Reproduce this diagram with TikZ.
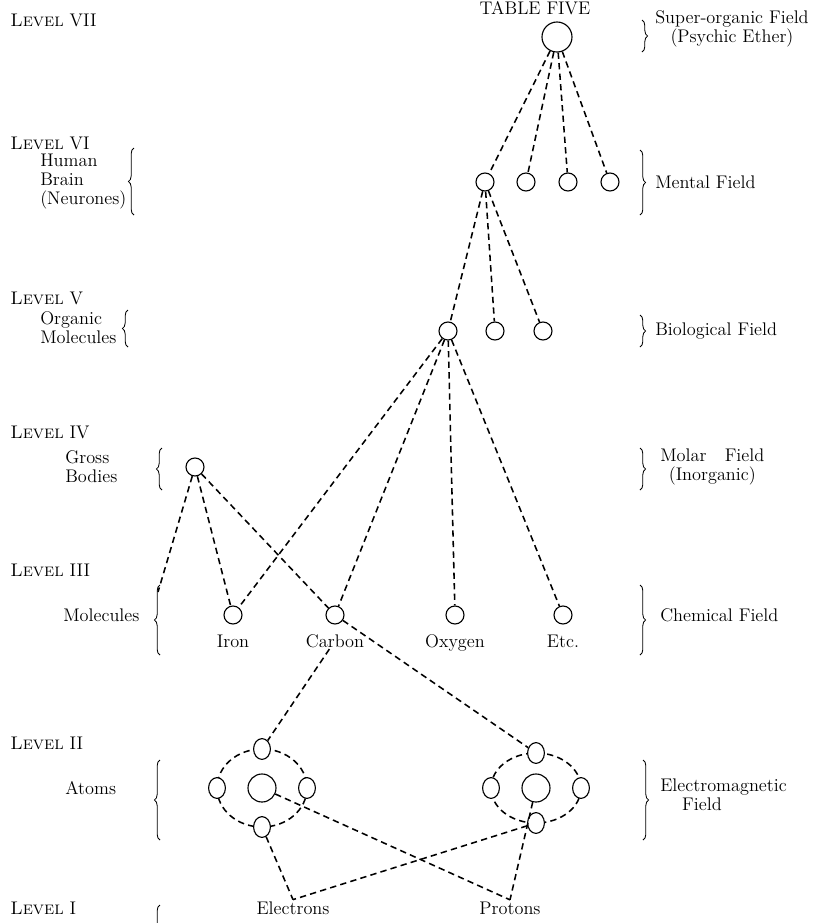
\documentclass[tikz,border=0pt]{standalone}
\usetikzlibrary{shapes.geometric,decorations.pathreplacing}
\tikzset{
%Define styles for the circles
big circle/.style={circle, draw, thick, fill=white, inner sep=0pt, minimum size=0.75cm},
small circle/.style={circle, draw, thick, fill=white, inner sep=0pt, minimum size=0.45cm},
nucleus/.style={circle, draw, thick, fill=white, inner sep=0pt, minimum size=0.7cm},
electron/.style={ellipse, draw, thick, fill=white, inner sep=0pt, minimum width=0.42cm, minimum height=0.52cm},
%Define styles for texts and lines
level label/.style={anchor=west, inner sep=0pt},
desc/.style={anchor=west, align=left, inner sep=0pt},
field/.style={anchor=west, align=center, inner sep=0pt},
part label/.style={anchor=base, inner sep=1pt},
bracket/.style={decorate, decoration={brace, amplitude=4pt}, semithick},
connection/.style={line width=1.1pt, dash pattern=on 4.5pt off 3pt},
}

\begin{document}
\begin{tikzpicture}[x=0.025cm, y=-0.025cm, font=\fontsize{13}{13.5}\selectfont]
    \useasboundingbox (0,0) rectangle (814,923);
    % Title
    \node[inner sep=0pt] (title) at (535,8) {TABLE FIVE};

    % Levels on the left
    \foreach \lev/\y in {VII/20, VI/143, V/298, IV/432, III/570, II/743, I/908}
      \node[level label] (lev\lev) at (10,\y) {\textsc{Level} \lev};

    % What each level is made of
    \node[desc] (brainlbl) at (40,182) {Human\\Brain\\(Neurones)};
    \node[desc] (organiclbl) at (40,328) {Organic\\Molecules};
    \node[desc] (grosslbl) at (65,467) {Gross\\Bodies};
    \node[desc] (moleclbl) at (63,615) {Molecules};
    \node[desc] (atomslbl) at (65,788) {Atoms};

    % Fields on the right
    \node[field] (superlbl) at (655,29) {Super-organic Field\\(Psychic Ether)};
    \node[field] (mentallbl) at (655,182) {Mental Field};
    \node[field] (biolbl) at (655,331) {Biological Field};
    \node[field] (molarlbl) at (660,467) {Molar\quad Field\\(Inorganic)};
    \node[field] (chemlbl) at (660,615) {Chemical Field};
    \node[desc] (emlbl) at (660,795) {Electromagnetic\\\hspace{1.2em}Field};

    % Braces
    \begin{scope}
    \clip (0,0) rectangle (814,923);
    \draw[bracket] (134,215) -- (134,148);
    \draw[bracket] (128,347) -- (128,310);
    \draw[bracket] (162,490) -- (162,448);
    \draw[bracket] (160,655) -- (160,585);
    \draw[bracket] (160,840) -- (160,760);
    \draw[bracket] (160,990) -- (160,905);
    \draw[bracket] (642,20) -- (642,52);
    \draw[bracket] (640,150) -- (640,215);
    \draw[bracket] (640,315) -- (640,347);
    \draw[bracket] (640,448) -- (640,490);
    \draw[bracket] (640,585) -- (640,655);
    \draw[bracket] (643,760) -- (643,840);
    \end{scope}

    % Circles of the upper levels
    \node[big circle] (psyche) at (557,37) {};
    \foreach \i/\x in {1/485, 2/526, 3/568, 4/610}
      \node[small circle] (neur\i) at (\x,182) {};
    \foreach \i/\x in {1/448, 2/495, 3/543}
      \node[small circle] (org\i) at (\x,331) {};
    \node[small circle] (gross) at (195,467) {};
    \coordinate (grossend) at (158,592);

    % Molecules
    \foreach \n/\x/\t in {iron/233/Iron, carbon/335/Carbon, oxygen/455/Oxygen, etcetera/563/Etc.} {
      \node[small circle] (\n) at (\x,615) {};
      \node[part label] (l\n) at (\x,647) {\t};
    }

    % Atoms
    \foreach \a/\x/\ry in {a/262/39, b/536/35} {
      \draw[connection] (\x,788) ellipse [x radius=45, y radius=\ry];
      \node[nucleus] (\a-nuc) at (\x,788) {};
      \node[electron] (\a-top) at ({\x},{788-\ry}) {};
      \node[electron] (\a-bot) at ({\x},{788+\ry}) {};
      \node[electron] (\a-left) at ({\x-45},788) {};
      \node[electron] (\a-right) at ({\x+45},788) {};
    }
    \node[part label] (elec) at (293,914) {Electrons};
    \node[part label] (prot) at (510,914) {Protons};

    % Draw the connections
    \foreach \i in {1,...,4}
      \draw[connection] (psyche) -- (neur\i);
    \foreach \i in {1,2,3}
      \draw[connection] (neur1) -- (org\i);
    \foreach \n in {iron, carbon, oxygen, etcetera}
      \draw[connection] (org1) -- (\n);
    \draw[connection] (gross) -- (iron) (gross) -- (carbon) (gross) -- (grossend);
    \draw[connection] (lcarbon) -- (a-top) (carbon) -- (b-top);
    \draw[connection] (a-nuc) -- (prot.north) (b-nuc) -- (prot.north);
    \draw[connection] (a-bot) -- (elec.north) (b-bot) -- (elec.north);
\end{tikzpicture}
\end{document}
